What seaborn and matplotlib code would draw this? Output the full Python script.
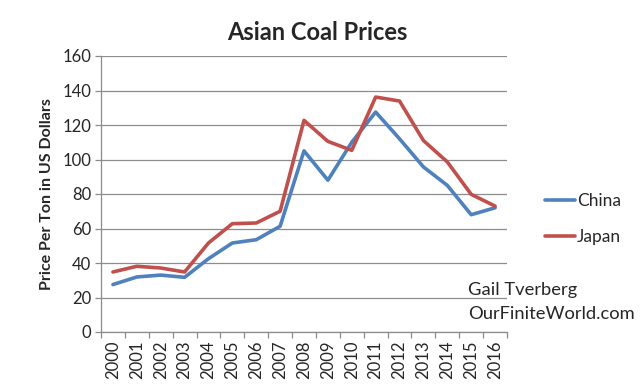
import numpy as np
import pandas as pd
import matplotlib
matplotlib.use("Agg")
import matplotlib.pyplot as plt
import seaborn as sns
from matplotlib.lines import Line2D

years = [str(y) for y in range(2000, 2017)]
china = [27.5, 31.9, 33.0, 31.7, 42.5, 51.6, 53.5, 61.3, 105.0, 88.0, 110.0, 127.5, 112.0, 95.7, 85.0, 68.0, 72.0]
japan = [34.8, 38.1, 37.1, 34.8, 51.6, 62.8, 63.2, 70.0, 122.7, 110.5, 105.3, 136.2, 133.9, 111.0, 98.6, 79.8, 73.0]
series_names = ["China", "Japan"]
colors = ["#4F81BD", "#C0504D"]

df = pd.DataFrame({
    "Year": years * 2,
    "Price": china + japan,
    "Country": [series_names[0]] * len(years) + [series_names[1]] * len(years),
})

sns.set_theme(style="white")
plt.rcParams["font.family"] = ["Lato", "DejaVu Sans"]

fig = plt.figure(figsize=(6.4, 3.85), dpi=100)
ax = fig.add_axes([101/640, 1 - 332/385, (507-101)/640, (332-56)/385])

sns.lineplot(data=df, x="Year", y="Price", hue="Country", palette=colors,
             linewidth=2.6, ax=ax, sort=False, legend=False)

ax.set_xlim(-0.5, len(years) - 0.5)
ax.set_ylim(0, 160)
ax.set_yticks(np.arange(0, 161, 20))
ax.yaxis.grid(True, color="#8c8c8c", linewidth=0.9)
ax.xaxis.grid(False)
ax.set_xticks(range(len(years)))
ax.set_xticklabels(years, rotation=90, fontsize=12)
ax.set_xticks(np.arange(-0.5, len(years), 1), minor=True)
ax.tick_params(axis="x", which="major", length=0, pad=6)
ax.tick_params(axis="x", which="minor", length=4, color="#8c8c8c", width=0.9, direction="out", bottom=True)
ax.tick_params(axis="y", length=4, color="#8c8c8c", width=0.9, direction="out", left=True, labelsize=12, pad=3)
for s in ["top", "right"]:
    ax.spines[s].set_visible(False)
for s in ["left", "bottom"]:
    ax.spines[s].set_color("#8c8c8c")
    ax.spines[s].set_linewidth(0.9)
ax.set_xlabel("")
ax.set_ylabel("Price Per Ton in US Dollars", fontsize=11.5, fontweight="bold", labelpad=6)
fig.text(317/640, 1 - 33/385, "Asian Coal Prices", ha="center", va="center",
         fontsize=17, fontweight="bold")

handles = [Line2D([], [], color=c, linewidth=2.6) for c in colors]
fig.legend(handles, series_names, loc="center left", bbox_to_anchor=(545/640, 1 - 219/385),
           frameon=False, fontsize=12.5, handlelength=1.7, handletextpad=0.15,
           labelspacing=1.2, borderpad=0, borderaxespad=0)

fig.text(468/640, 1 - 290/385, "Gail Tverberg", fontsize=13.2, va="center")
fig.text(468/640, 1 - 314/385, "OurFiniteWorld.com", fontsize=13.2, va="center")

fig.savefig("out.png", dpi=100)
